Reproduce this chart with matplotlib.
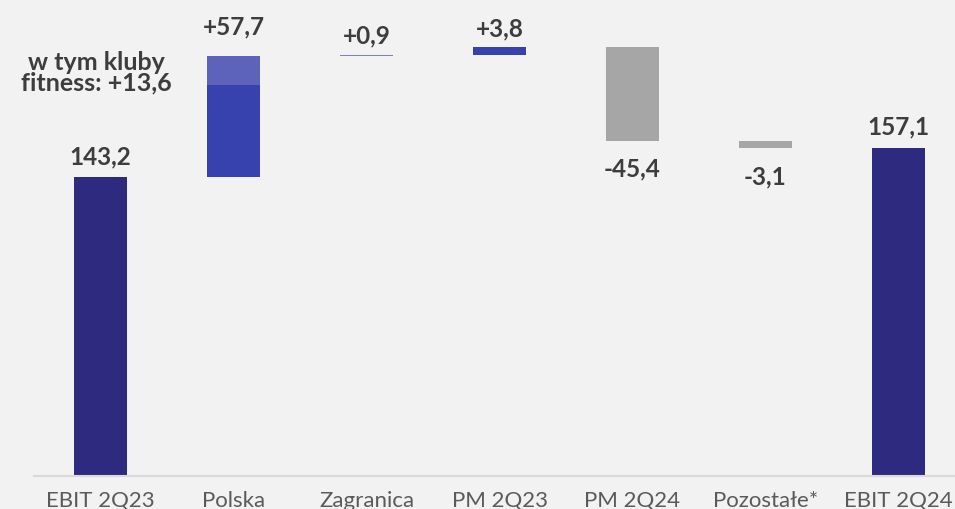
import matplotlib.pyplot as plt

# waterfall data (mln PLN)
categories = ["EBIT 2Q23", "Polska", "Zagranica", "PM 2Q23", "PM 2Q24", "Pozostałe*", "EBIT 2Q24"]
values = [143.2, 57.7, 0.9, 3.8, -45.4, -3.1, 157.1]
labels = ["143,2", "+57,7", "+0,9", "+3,8", "-45,4", "-3,1", "157,1"]
fitness_part = 13.6
fitness_label = "w tym kluby\nfitness: +13,6"

NAVY = "#2e2a7f"
BLUE = "#3742ae"
BLUE_LIGHT = "#5d63bb"
ZAG = "#7b80c8"
GRAY = "#a6a6a6"
BG = "#f2f2f2"
TXT = "#3d3d3d"

plt.rcParams['font.family'] = ['Lato', 'DejaVu Sans']

fig = plt.figure(figsize=(9.55, 5.1), dpi=100, facecolor=BG)
ax = fig.add_axes([0, 33 / 510, 1, 477 / 510], facecolor=BG)

# compute bottoms / heights
n = len(values)
bottoms, heights, colors = [], [], []
running = 0
for i, v in enumerate(values):
    if i == 0 or i == n - 1:
        bottoms.append(0)
        heights.append(v)
        colors.append(NAVY)
        running = v
    else:
        if v >= 0:
            bottoms.append(running)
            heights.append(v)
            colors.append(BLUE)
        else:
            bottoms.append(running + v)
            heights.append(-v)
            colors.append(GRAY)
        running += v
colors[2] = ZAG

x = list(range(n))
ax.bar(x, heights, bottom=bottoms, width=0.4, color=colors, linewidth=0, zorder=2)
# Zagranica is very small; draw it as a thin visible line
ax.bar(2, 0.9, bottom=bottoms[2] + heights[2] - 0.9, width=0.4, color=ZAG, linewidth=0, zorder=2)

# lighter top part of Polska (fitness clubs)
top_pl = bottoms[1] + heights[1]
ax.bar(1, fitness_part, bottom=top_pl - fitness_part, width=0.4, color=BLUE_LIGHT, linewidth=0, zorder=3)

# value labels
offsets = [7, 14, 5.5, 5.5, -11, -12, 7.5]
for i in x:
    top = bottoms[i] + heights[i]
    if values[i] >= 0 or i in (0, n - 1):
        ax.annotate(labels[i], (i, top), xytext=(0, offsets[i]), textcoords="offset points",
                    ha="center", va="bottom", fontsize=17.5, fontweight="bold", color=TXT)
    else:
        ax.annotate(labels[i], (i, bottoms[i]), xytext=(0, offsets[i]), textcoords="offset points",
                    ha="center", va="top", fontsize=17.5, fontweight="bold", color=TXT)

ax.text(-0.03, 193.5, fitness_label, ha="center", va="center", fontsize=18,
        fontweight="bold", color=TXT, linespacing=0.85)

ax.set_xlim(-0.756, 6.425)
ax.set_ylim(0, 228.4)
ax.set_xticks(x)
ax.set_xticklabels(categories, fontsize=16, color="#5a5a5a")
ax.tick_params(axis="x", length=0, pad=10)
ax.set_yticks([])
for s in ["top", "right", "left"]:
    ax.spines[s].set_visible(False)
ax.spines["bottom"].set_color("#dadada")
ax.spines["bottom"].set_linewidth(1.5)
ax.spines["bottom"].set_bounds(-0.5, 6.425)

fig.savefig("out.png", dpi=100, facecolor=BG)
